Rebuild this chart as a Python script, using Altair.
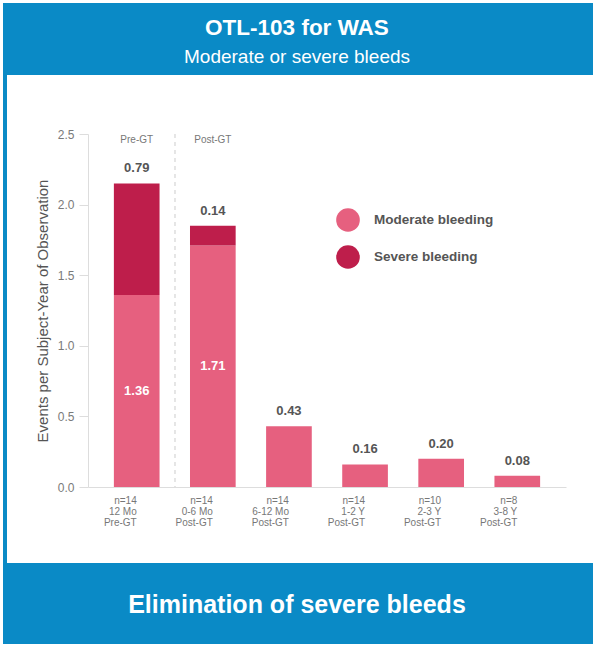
import altair as alt
import pandas as pd

# ---- data ----
categories = ["n=14|12 Mo|Pre-GT", "n=14|0-6 Mo|Post-GT", "n=14|6-12 Mo|Post-GT",
              "n=14|1-2 Y|Post-GT", "n=10|2-3 Y|Post-GT", "n=8|3-8 Y|Post-GT"]
moderate = [1.36, 1.71, 0.43, 0.16, 0.20, 0.08]
severe = [0.79, 0.14, 0.0, 0.0, 0.0, 0.0]
series = ["Moderate bleeding", "Severe bleeding"]
colors = ["#E6607F", "#BE1E4B"]
phase_labels = ["Pre-GT", "Post-GT"]
phase_cats = [categories[0], categories[1]]

rows = []
for c, m, s in zip(categories, moderate, severe):
    rows.append({"cat": c, "series": series[0], "value": m, "order": 0})
    rows.append({"cat": c, "series": series[1], "value": s, "order": 1})
bars_df = pd.DataFrame(rows)

top_df = pd.DataFrame({
    "cat": categories,
    "total": [m + s for m, s in zip(moderate, severe)],
    "label": [f"{(s if s > 0 else m):.2f}" for m, s in zip(moderate, severe)],
})
inner_df = pd.DataFrame({
    "cat": [c for c, s in zip(categories, severe) if s > 0],
    "mid": [m / 2 for m, s in zip(moderate, severe) if s > 0],
    "label": [f"{m:.2f}" for m, s in zip(moderate, severe) if s > 0],
})
phase_df = pd.DataFrame({"cat": phase_cats, "label": phase_labels})
divider_df = pd.DataFrame({"cat": [categories[1]]})

FONT = "Liberation Sans"
BLUE = "#0A8AC6"

W, H = 478, 353
PAD_L, PAD_T = 88, 134

x_scale = alt.Scale(domain=categories, paddingInner=0.4, paddingOuter=0.34)
y_scale = alt.Scale(domain=[0, 2.5])

x_enc = alt.X("cat:N", scale=x_scale, sort=categories,
              axis=alt.Axis(title=None, labelAngle=0,
                            labelExpr="split(datum.label, '|')",
                            labelFont=FONT, labelFontSize=10, labelColor="#777777",
                            labelLineHeight=11, labelPadding=8,
                            ticks=False, domainColor="#dddddd", labelBaseline="top"))

bars = alt.Chart(bars_df).mark_bar().encode(
    x=x_enc,
    y=alt.Y("value:Q", scale=y_scale, stack="zero",
            axis=alt.Axis(title="Events per Subject-Year of Observation",
                          values=[0, 0.5, 1.0, 1.5, 2.0, 2.5], format=".1f",
                          grid=False, tickSize=9, tickColor="#dddddd",
                          domainColor="#dddddd", labelPadding=5,
                          labelFont=FONT, labelFontSize=12, labelColor="#7a7a7a",
                          titleFont=FONT, titleFontSize=15, titleFontWeight="normal",
                          titleColor="#555555", titlePadding=7)),
    color=alt.Color("series:N",
                    scale=alt.Scale(domain=series, range=colors),
                    legend=alt.Legend(title=None, orient="none", legendX=248, legendY=74,
                                      symbolType="circle", symbolSize=560,
                                      symbolStrokeWidth=0, symbolOpacity=1,
                                      labelFont=FONT, labelFontSize=13.5,
                                      labelFontWeight="bold", labelColor="#555555",
                                      labelOffset=14, rowPadding=13)),
    order=alt.Order("order:Q"),
)

top_text = alt.Chart(top_df).mark_text(
    baseline="bottom", dy=-8, font=FONT, fontSize=13, fontWeight="bold", color="#555555"
).encode(x=alt.X("cat:N", scale=x_scale, sort=categories), y=alt.Y("total:Q", scale=y_scale), text="label:N")

inner_text = alt.Chart(inner_df).mark_text(
    baseline="middle", font=FONT, fontSize=13, fontWeight="bold", color="white"
).encode(x=alt.X("cat:N", scale=x_scale, sort=categories), y=alt.Y("mid:Q", scale=y_scale), text="label:N")

phase_text = alt.Chart(phase_df).mark_text(
    baseline="middle", font=FONT, fontSize=10, color="#777777"
).encode(x=alt.X("cat:N", scale=x_scale, sort=categories), y=alt.value(6), text="label:N")

divider = alt.Chart(divider_df).mark_rule(
    strokeDash=[4, 4], color="#cccccc", strokeWidth=1, xOffset=-15
).encode(x=alt.X("cat:N", scale=x_scale, sort=categories, bandPosition=0),
         y=alt.value(0), y2=alt.value(H))

# ---- card decoration (blue header / footer / left border) ----
deco_df = pd.DataFrame({"k": [0]})
header = alt.Chart(deco_df).mark_rect(color=BLUE).encode(
    x=alt.value(3 - PAD_L), x2=alt.value(593 - PAD_L),
    y=alt.value(3 - PAD_T), y2=alt.value(75 - PAD_T))
footer = alt.Chart(deco_df).mark_rect(color=BLUE).encode(
    x=alt.value(3 - PAD_L), x2=alt.value(593 - PAD_L),
    y=alt.value(563 - PAD_T), y2=alt.value(644 - PAD_T))
left_border = alt.Chart(deco_df).mark_rect(color=BLUE).encode(
    x=alt.value(3 - PAD_L), x2=alt.value(7 - PAD_L),
    y=alt.value(75 - PAD_T), y2=alt.value(563 - PAD_T))

title_df = pd.DataFrame({"t": ["OTL-103 for WAS"]})
sub_df = pd.DataFrame({"t": ["Moderate or severe bleeds"]})
foot_df = pd.DataFrame({"t": ["Elimination of severe bleeds"]})
title_t = alt.Chart(title_df).mark_text(font=FONT, fontSize=22.5, fontWeight="bold",
                                        color="white", baseline="middle").encode(
    x=alt.value(297 - PAD_L), y=alt.value(28 - PAD_T), text="t:N")
sub_t = alt.Chart(sub_df).mark_text(font=FONT, fontSize=19, color="white",
                                    baseline="middle").encode(
    x=alt.value(297 - PAD_L), y=alt.value(57 - PAD_T), text="t:N")
foot_t = alt.Chart(foot_df).mark_text(font=FONT, fontSize=25, fontWeight="bold",
                                      color="white", baseline="middle").encode(
    x=alt.value(297 - PAD_L), y=alt.value(605 - PAD_T), text="t:N")

chart = alt.layer(
    header, footer, left_border, title_t, sub_t, foot_t,
    divider, bars, top_text, inner_text, phase_text
).properties(
    width=W, height=H,
    autosize=alt.AutoSizeParams(type="none"),
    padding={"left": PAD_L, "top": PAD_T, "right": 593 - PAD_L - W, "bottom": 648 - PAD_T - H},
    background="white",
).configure_view(stroke=None)

chart.save("out.html", embed_options={"renderer": "svg", "actions": False})
